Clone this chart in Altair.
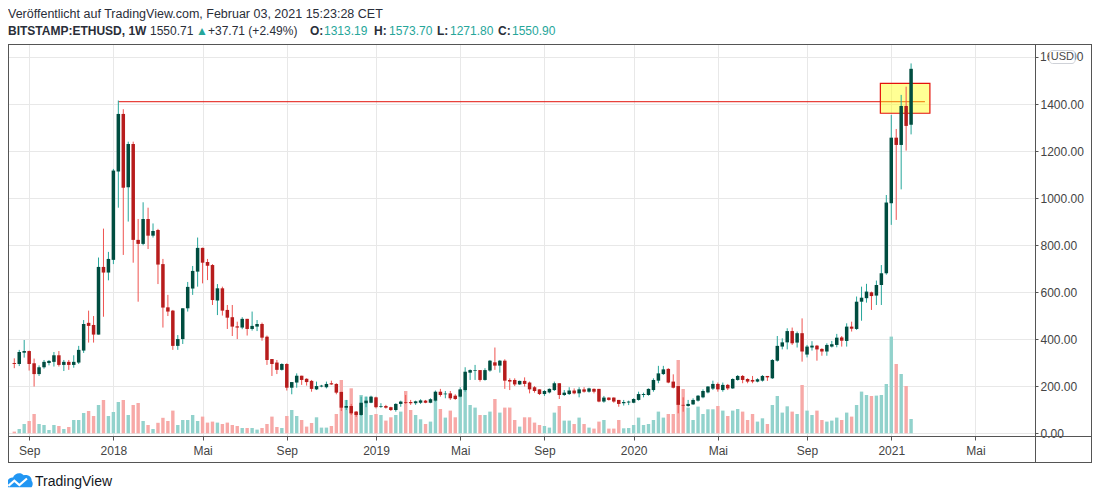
import altair as alt
import pandas as pd

# ---------------- data ----------------
first_week = "2017-08-14"  # weekly candles, BITSTAMP:ETHUSD 1W

opens = [299,295,343,350,298,252,281,299,304,332,
         291,304,291,301,352,470,461,420,708,684,
         738,1114,1359,1047,1231,823,806,912,841,865,
         720,536,522,372,401,532,616,688,789,729,
         716,565,617,525,494,455,450,487,444,454,
         465,411,316,301,270,295,194,216,245,232,
         223,187,199,196,213,210,176,109,116,92,
         78,128,130,153,112,116,111,99,125,133,
         133,128,130,139,130,139,177,166,170,160,
         156,184,258,265,269,227,267,302,288,309,
         227,227,208,223,216,196,187,167,174,184,
         213,163,167,182,170,187,177,189,189,135,
         152,152,142,128,131,130,142,163,163,184,
         224,252,274,220,201,121,116,123,139,153,
         174,190,210,184,206,191,227,244,231,227,
         220,224,244,234,309,369,387,435,386,426,
         335,365,373,359,348,369,376,408,393,454,
         444,560,575,600,586,631,681,979,1258,1227,
         1393,1313]
highs = [319,355,397,352,318,289,312,312,346,350,
         312,312,332,372,482,522,499,748,871,772,
         1125,1416,1379,1241,1241,912,983,960,893,870,
         742,589,525,418,532,644,712,833,790,742,
         720,635,624,546,546,475,494,487,518,482,
         471,416,316,312,298,298,218,255,245,234,
         227,220,206,220,224,213,177,142,125,95,
         156,156,160,156,128,121,113,128,139,163,
         142,139,145,142,149,182,189,180,180,166,
         196,281,272,291,269,277,312,365,312,315,
         234,234,224,238,220,201,187,184,191,220,
         213,184,196,191,196,196,194,191,189,159,
         153,153,142,142,139,149,177,173,191,234,
         287,287,277,251,201,153,142,149,163,187,
         201,224,216,216,210,234,248,248,234,244,
         234,248,244,316,414,404,447,450,433,489,
         376,392,376,362,383,393,423,414,468,475,
         582,624,636,603,650,716,1014,1355,1295,1440,
         1475,1574]
lows = [277,286,322,267,199,244,275,289,284,284,
        265,270,279,295,342,386,386,420,496,651,
        720,960,759,901,726,560,800,784,833,635,
        450,499,355,355,380,518,589,624,638,652,
        546,503,501,444,414,401,443,416,437,435,
        394,291,244,252,267,182,166,194,206,203,
        177,184,196,191,206,166,95,99,78,70,
        74,111,128,106,108,105,95,92,113,125,
        121,121,125,128,128,135,156,149,142,142,
        153,177,227,227,220,224,262,270,258,189,
        184,201,206,199,170,173,163,159,170,180,
        146,159,163,166,153,173,173,170,132,130,
        139,130,113,118,120,128,139,153,160,177,
        213,248,213,191,85,92,113,121,135,149,
        170,184,177,177,184,189,224,213,213,213,
        217,220,223,231,305,357,357,376,365,305,
        323,352,309,330,330,365,366,369,369,433,
        440,479,556,525,546,546,675,887,908,1038,
        1203,1272]
closes = [295,346,350,295,252,281,304,308,332,291,
          304,291,304,355,465,457,420,708,684,742,
          1118,1359,1045,1231,823,806,912,841,861,718,
          535,518,372,401,532,623,691,789,726,713,
          567,617,522,492,454,450,487,444,457,465,
          407,312,295,270,295,194,218,245,227,218,
          189,201,203,210,208,173,109,116,85,78,
          130,139,156,111,115,109,99,125,135,130,
          128,136,140,130,145,177,163,169,149,146,
          187,262,269,268,227,269,309,288,309,224,
          220,208,223,210,187,180,167,180,189,213,
          163,173,182,170,187,177,191,177,135,152,
          142,135,125,133,135,146,167,167,189,227,
          255,272,216,194,121,118,125,142,160,180,
          199,210,187,206,191,231,244,227,220,220,
          230,244,238,312,372,387,435,383,426,348,
          369,373,357,348,376,379,407,394,454,445,
          560,577,603,584,631,681,982,1258,1227,1393,
          1308,1551]
volumes = [1.7,4.3,9.3,12.3,19.3,9.3,8.3,3.3,8.3,7.3,
           4.3,6.3,13.3,13.3,20.3,22.3,17.3,28.3,33.3,17.3,
           21.3,31.3,33.3,18.3,28.3,30.3,12.3,8.3,4.3,10.5,
           15.5,12.3,22.7,8.3,13.3,13.3,18.3,12.3,16.7,10.7,
           11.7,10.7,9.3,10.7,8.3,7.3,5.3,5.3,5.3,3.7,
           5.3,9.3,16.7,6.3,5.3,17.3,23.3,17.3,13.3,6.7,
           10.3,16,5.7,5.7,7.3,19.3,53.3,33.3,45,21.7,
           38.3,36.7,18.3,19.3,18.3,12.7,16,18.3,21.7,42.3,
           23.3,18.3,14,9.3,11.7,33.3,24.3,15.7,22.7,16,
           43.3,47,28.3,25.7,18.3,18.3,21.7,34.3,20.7,25.7,
           25.7,13.3,6.7,16,16,10.7,8.3,7.3,5.7,20.7,
           27.3,12.7,12.7,9.3,15.7,9.3,5.7,4.7,11.7,13.3,
           4.7,4.7,13.3,5,5.3,8.3,15.7,8.3,9.3,13.3,
           21.7,15.7,19.3,19.3,73.3,44.3,25.7,13.3,26.7,19.3,
           24,24,27.3,22.7,17.3,22.7,24.3,21.7,13.3,19.3,
           11.7,15,9.3,28.3,37.3,20.7,27,21.7,19.3,48.3,
           22.7,18.3,22.7,13.3,11.7,12.7,15.7,13.3,20.7,16.7,
           28.3,41.7,38.3,37.3,37.7,38.3,49.3,96.7,69.3,59.3,
           47.3,14.3]

# annotation: previous ATH line and highlight box
ath_start = ["2018-01-08"]
ath_end = ["2021-02-20T14:00:00"]
ath_level = [1411]
box_start = ["2020-12-19T14:00:00"]
box_end = ["2021-02-27T14:00:00"]
box_low = [1362]
box_high = [1489]

tick_dates = [(2017, 9, 4), (2018, 1, 1), (2018, 5, 7), (2018, 9, 3),
              (2019, 1, 7), (2019, 5, 6), (2019, 9, 2), (2020, 1, 6),
              (2020, 5, 4), (2020, 9, 7), (2021, 1, 4), (2021, 5, 3)]
price_ticks = [0, 200, 400, 600, 800, 1000, 1200, 1400, 1600]
top_label_value = [1600]   # this label sits under the "USD" badge

header_line1 = "Veröffentlicht auf TradingView.com, Februar 03, 2021 15:23:28 CET"
header_bold_txt = ["BITSTAMP:ETHUSD, 1W", "O:", "H:", "L:", "C:"]
header_bold_x = [0, 302, 366, 429, 490]
header_norm_txt = ["1550.71", "▲", "+37.71 (+2.49%)", "1313.19", "1573.70", "1271.80", "1550.90"]
header_norm_x = [142, 188, 200, 316, 381, 442, 504]
header_norm_col = ["#2a2e39", "#26a69a", "#2a2e39", "#26a69a", "#26a69a", "#26a69a", "#26a69a"]

# ---------------- build ----------------
dates = pd.date_range(first_week, periods=len(opens), freq="7D")
df = pd.DataFrame({"date": dates, "open": opens, "high": highs, "low": lows,
                   "close": closes, "volume": volumes})

W, H = 1027, 392
FONT = "Liberation Sans"
GRID = "#e8e8e8"
FRAME = "#555555"
LABEL = "#444444"
up_cond = "datum.close >= datum.open"

x_scale = alt.Scale(domain=[alt.DateTime(year=2017, month=8, date=12, hours=4, minutes=19),
                            alt.DateTime(year=2021, month=7, date=19)])
x_axis = alt.Axis(
    values=[alt.DateTime(year=y, month=m, date=d) for (y, m, d) in tick_dates],
    labelExpr="month(datum.value) == 0 ? timeFormat(datum.value, '%Y') : (month(datum.value) == 4 ? 'Mai' : 'Sep')",
    title=None, grid=True, gridColor=GRID, domain=False, tickSize=4, tickColor=FRAME,
    labelColor=LABEL, labelFontSize=12, labelFont=FONT, labelPadding=5,
    labelFlush=False, labelOverlap=False)
y_scale = alt.Scale(domain=[-11.5, 1656.6], nice=False, zero=False)
y_axis = alt.Axis(orient="right", values=price_ticks, title=None,
                  labelExpr="datum.value == 1600 ? '' : format(datum.value, '.2f')",
                  grid=True, gridColor=GRID, domain=False, tickSize=3, tickColor=FRAME,
                  labelPadding=2, labelColor=LABEL, labelFontSize=12, labelFont=FONT)

X = alt.X("date:T", scale=x_scale, axis=x_axis)

volume = alt.Chart(df).mark_bar(size=3.4).encode(
    x=X,
    y=alt.Y("volume:Q", scale=alt.Scale(domain=[-2.7, 389.3], nice=False, zero=False), axis=None),
    y2=alt.datum(0),
    color=alt.condition(up_cond, alt.value("#92d2cc"), alt.value("#f7a9a7")),
)

ath_df = pd.DataFrame({"start": ath_start, "end": ath_end, "level": ath_level})
box_df = pd.DataFrame({"start": box_start, "end": box_end, "low": box_low, "high": box_high})
top_df = pd.DataFrame({"v": top_label_value})

ath = alt.Chart(ath_df).mark_rule(color="#e3120b", strokeWidth=1).encode(
    x=alt.X("start:T", scale=x_scale, axis=x_axis), x2="end:T",
    y=alt.Y("level:Q", scale=y_scale, axis=y_axis))
box = alt.Chart(box_df).mark_rect(fill="#ffff00", fillOpacity=0.42, stroke="#e3120b",
                                  strokeWidth=1.2).encode(
    x=alt.X("start:T", scale=x_scale, axis=x_axis), x2="end:T",
    y=alt.Y("low:Q", scale=y_scale, axis=y_axis), y2="high:Q")
wicks = alt.Chart(df).mark_rule(strokeWidth=1).encode(
    x=X, y=alt.Y("low:Q", scale=y_scale, axis=y_axis), y2="high:Q",
    color=alt.condition(up_cond, alt.value("#26a69a"), alt.value("#ef5350")))
bodies = alt.Chart(df).mark_bar(size=3.5).encode(
    x=X, y=alt.Y("open:Q", scale=y_scale, axis=y_axis), y2="close:Q",
    color=alt.condition(up_cond, alt.value("#004d40"), alt.value("#b71c1c")))
top_label = alt.Chart(top_df).mark_text(font=FONT, fontSize=12, color=LABEL, align="left",
                                        baseline="middle").encode(
    x=alt.value(W + 5), y=alt.Y("v:Q", scale=y_scale, axis=y_axis),
    text=alt.Text("v:Q", format=".2f"))

price = alt.layer(ath, box, wicks, bodies, top_label)

# frame lines (pixel positions, decoration only)
frame_df = pd.DataFrame({
    "x":  [0, 0.5, 1083.5, 0, W + 0.5, 0],
    "x2": [1084, 0.5, 1083.5, 1084, W + 0.5, 1084],
    "y":  [0.5, 0, 0, 418.5, 0, H + 0.5],
    "y2": [0.5, 419, 419, 418.5, 419, H + 0.5],
})
frame = alt.Chart(frame_df).mark_rule(color=FRAME, strokeWidth=1).encode(
    x=alt.X("x:Q", scale=None), x2="x2:Q", y=alt.Y("y:Q", scale=None), y2="y2:Q")

one = pd.DataFrame({"k": [0]})
usd_box = alt.Chart(one).mark_rect(fill="white", stroke="#cfd2d8", strokeWidth=1,
                                   cornerRadius=3).encode(
    x=alt.value(1041.5), x2=alt.value(1067), y=alt.value(6.5), y2=alt.value(19.5))
usd_text = alt.Chart(one).mark_text(text="USD", font=FONT, fontSize=11, color="#4a4a4a",
                                    align="center", baseline="middle").encode(
    x=alt.value(1054.3), y=alt.value(13.3))

head1 = alt.Chart(one).mark_text(text=header_line1, font=FONT, fontSize=12.5, color="#2a2e39",
                                 align="left", baseline="alphabetic").encode(
    x=alt.value(0), y=alt.value(-26))
hb_df = pd.DataFrame({"text": header_bold_txt, "px": header_bold_x, "py": [-9] * len(header_bold_txt)})
hn_df = pd.DataFrame({"text": header_norm_txt, "px": header_norm_x, "py": [-9] * len(header_norm_txt),
                      "col": header_norm_col})
head_bold = alt.Chart(hb_df).mark_text(font=FONT, fontSize=12, fontWeight="bold", color="#2a2e39",
                                       align="left", baseline="alphabetic").encode(
    x=alt.X("px:Q", scale=None), y=alt.Y("py:Q", scale=None), text="text:N")
head_norm = alt.Chart(hn_df).mark_text(font=FONT, fontSize=12, align="left",
                                       baseline="alphabetic").encode(
    x=alt.X("px:Q", scale=None), y=alt.Y("py:Q", scale=None), text="text:N",
    color=alt.Color("col:N", scale=None))

cloud = ("M-1,0.5 L-1,0.15 C-1,-0.15 -0.8,-0.3 -0.55,-0.28 C-0.45,-0.62 0.05,-0.75 0.3,-0.45 "
         "C0.6,-0.55 0.95,-0.35 0.92,0 C1.05,0.1 1.02,0.4 0.9,0.5 Z")
zig = "M-0.92,0.38 L-0.45,-0.02 L-0.05,0.32 L0.55,-0.2"
logo = alt.Chart(one).mark_point(shape=cloud, size=640, filled=True, fill="#2196f3",
                                 strokeWidth=0, opacity=1).encode(
    x=alt.value(12), y=alt.value(437))
logo_zig = alt.Chart(one).mark_point(shape=zig, size=640, filled=False, stroke="white",
                                     strokeWidth=2.2, opacity=1).encode(
    x=alt.value(12), y=alt.value(437))
foot = alt.Chart(one).mark_text(text="TradingView", font=FONT, fontSize=14, color="#131722",
                                align="left", baseline="alphabetic").encode(
    x=alt.value(27), y=alt.value(442))

chart = alt.layer(
    volume, price, frame, usd_box, usd_text, head1, head_bold, head_norm, logo, logo_zig, foot
).resolve_scale(y="independent").properties(
    width=W, height=H,
    autosize=alt.AutoSizeParams(type="none"),
    padding={"left": 0, "top": 36, "right": 57, "bottom": 55},
    background="white",
).configure_view(stroke=None)

chart.save("out.html", embed_options={"renderer": "svg", "actions": False})
